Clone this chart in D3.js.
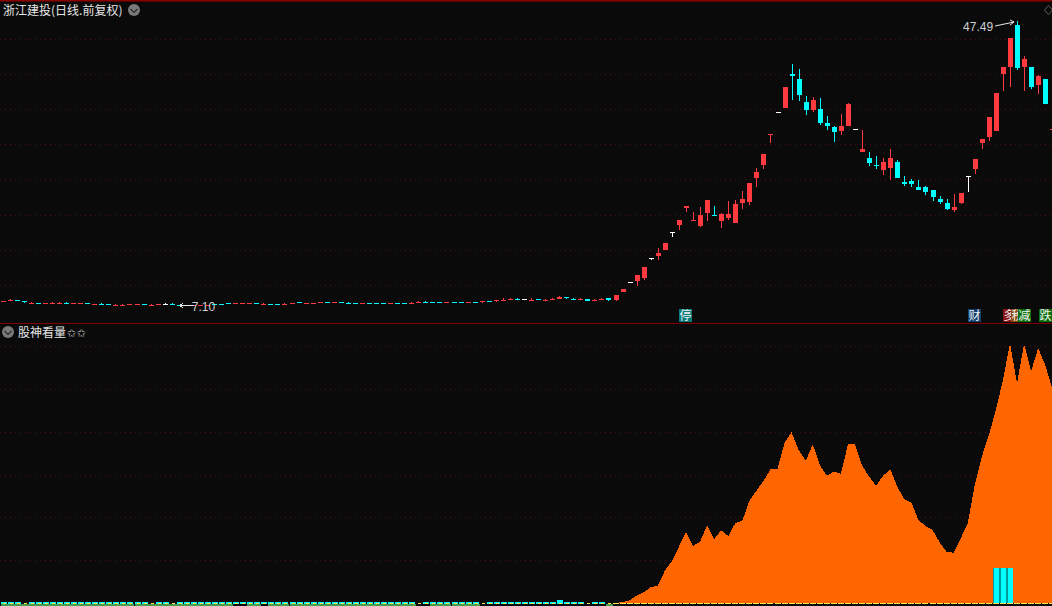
<!DOCTYPE html>
<html><head><meta charset="utf-8">
<script src="https://cdn.jsdelivr.net/npm/d3@7/dist/d3.min.js"></script>
<style>html,body{margin:0;padding:0;background:#0a0a0a;overflow:hidden}svg{display:block}
text{font-family:"Noto Sans CJK SC","Noto Sans",sans-serif}</style></head><body>
<svg id="c" width="1052" height="606"></svg>
<script>
const open=[7.73,7.87,7.89,7.78,7.44,7.46,7.44,7.44,7.44,7.46,
7.44,7.44,7.46,7.30,7.32,7.32,7.16,7.16,7.30,7.30,
7.32,7.16,7.30,7.31,7.32,7.18,7.18,7.16,7.16,7.16,
7.32,7.32,7.46,7.44,7.44,7.44,7.46,7.30,7.32,7.32,
7.30,7.44,7.60,7.44,7.44,7.58,7.60,7.58,7.60,7.46,
7.46,7.44,7.46,7.46,7.46,7.44,7.46,7.46,7.44,7.58,
7.60,7.60,7.60,7.58,7.60,7.60,7.58,7.60,7.73,7.75,
7.87,7.87,8.01,8.03,8.02,7.87,8.03,7.87,8.01,8.02,
8.24,8.03,8.01,8.02,7.87,8.01,8.16,7.88,9.02,10.44,
10.58,11.00,13.84,14.13,14.98,17.54,18.53,20.94,19.23,18.39,
20.23,19.96,19.10,19.52,18.81,21.65,21.80,25.20,27.05,31.31,
34.58,35.14,39.97,39.26,36.00,34.86,35.00,33.01,32.45,31.88,
32.59,32.16,28.90,28.04,27.06,26.34,26.62,27.48,24.64,24.78,
23.93,23.93,23.50,22.22,21.65,20.66,21.65,25.49,26.48,30.17,
31.03,31.88,39.97,40.97,46.93,40.97,40.97,38.41,39.26,32.15];
const high=[7.75,8.02,7.89,7.78,7.60,7.46,7.46,7.60,7.60,7.60,
7.46,7.46,7.46,7.32,7.45,7.32,7.31,7.31,7.32,7.32,
7.32,7.31,7.32,7.45,7.45,7.18,7.18,7.18,7.18,7.18,
7.32,7.32,7.46,7.46,7.46,7.46,7.46,7.45,7.32,7.32,
7.45,7.46,7.60,7.46,7.46,7.60,7.60,7.60,7.60,7.60,
7.46,7.46,7.46,7.46,7.46,7.46,7.46,7.46,7.60,7.74,
7.74,7.60,7.60,7.60,7.60,7.60,7.60,7.60,7.75,7.75,
7.89,8.16,8.16,8.16,8.02,8.16,8.03,8.02,8.16,8.45,
8.24,8.16,8.16,8.02,8.02,8.16,8.16,8.59,9.44,10.44,
11.43,12.57,13.84,15.26,15.97,17.54,19.24,21.23,20.38,21.09,
22.08,21.23,20.23,21.94,22.08,23.36,24.49,26.62,28.61,31.45,
34.58,38.13,41.39,40.68,36.85,36.71,36.56,34.01,32.59,34.29,
35.85,32.16,32.02,28.90,28.33,28.04,29.32,27.76,25.49,25.06,
24.92,24.07,23.50,22.65,22.22,22.93,23.07,25.49,27.90,30.74,
33.87,37.27,40.97,45.08,47.49,42.53,40.97,39.83,39.26,32.17];
const low=[7.73,7.87,7.87,7.45,7.44,7.44,7.44,7.44,7.44,7.44,
7.44,7.44,7.44,7.30,7.30,7.30,7.16,7.16,7.30,7.30,
7.30,7.16,7.30,7.31,7.30,7.10,7.16,7.16,7.16,7.16,
7.30,7.30,7.44,7.44,7.44,7.44,7.44,7.30,7.30,7.30,
7.30,7.44,7.58,7.44,7.44,7.58,7.58,7.58,7.58,7.44,
7.44,7.44,7.44,7.44,7.44,7.44,7.44,7.44,7.44,7.58,
7.58,7.58,7.58,7.58,7.58,7.58,7.58,7.58,7.45,7.73,
7.66,7.87,8.01,8.01,8.02,7.87,8.01,7.87,8.01,8.02,
8.02,8.01,8.01,7.74,7.87,7.81,7.74,7.74,9.02,10.44,
9.87,10.72,13.56,13.56,14.98,16.83,17.82,20.38,19.23,18.25,
19.10,19.94,18.10,19.24,18.81,20.80,21.37,23.93,26.48,30.17,
34.58,35.14,36.28,36.14,34.15,34.58,32.73,32.02,30.32,31.31,
32.59,32.16,28.90,26.91,26.48,25.63,24.92,25.20,24.07,23.93,
23.50,22.79,21.94,21.51,20.66,20.38,21.51,23.22,25.77,29.32,
30.46,31.88,37.56,38.13,40.54,37.56,37.84,37.13,35.71,32.15];
const close=[7.75,7.89,7.87,7.58,7.46,7.44,7.46,7.46,7.46,7.44,
7.46,7.46,7.44,7.32,7.30,7.30,7.18,7.18,7.32,7.32,
7.30,7.18,7.32,7.31,7.30,7.16,7.16,7.18,7.18,7.18,
7.30,7.30,7.44,7.46,7.46,7.46,7.44,7.32,7.30,7.30,
7.32,7.46,7.58,7.46,7.46,7.60,7.58,7.60,7.58,7.44,
7.44,7.46,7.44,7.44,7.44,7.46,7.44,7.44,7.46,7.60,
7.58,7.58,7.58,7.60,7.58,7.58,7.60,7.58,7.75,7.73,
7.89,7.89,8.03,8.01,8.02,7.89,8.01,7.89,8.03,8.31,
8.22,8.01,8.03,7.74,7.89,8.03,7.88,8.59,9.44,10.44,
11.43,12.57,13.84,14.55,15.97,17.54,19.24,21.23,19.25,19.95,
22.08,19.94,20.09,20.09,21.51,22.22,24.49,26.06,28.61,31.45,
34.58,38.13,39.69,36.99,34.86,36.28,33.01,32.59,31.74,32.59,
35.71,32.16,29.32,27.33,27.04,27.48,28.04,25.20,24.35,24.35,
23.50,23.22,22.51,21.80,20.80,21.09,23.07,25.49,27.90,30.74,
33.87,37.27,40.97,45.08,40.82,42.10,38.13,39.69,35.71,32.17];

const areaValues=[0,0,0,0,0,0,0,0,0,0,
0,0,0,0,0,0,0,0,0,0,
0,0,0,0,0,0,0,0,0,0,
0,0,0,0,0,0,0,0,0,0,
0,0,0,0,0,0,0,0,0,0,
0,0,0,0,0,0,0,0,0,0,
0,0,0,0,0,0,0,0,0,0,
0,0,0,0,0,0,0,0,0,0,
0,0,0,0,0,0,0,0,0.23,0.63,
1.70,2.50,3.67,4.04,7.54,9.73,13.15,16.58,13.31,14.32,
18.14,14.94,16.97,15.64,18.61,19.22,23.82,26.22,28.48,31.22,
31.36,37.43,39.86,35.72,33.22,37.05,32.22,29.72,30.70,30.16,
37.05,37.05,32.06,29.49,27.39,29.72,31.22,27.16,24.29,23.42,
19.38,17.98,17.05,14.17,11.98,11.74,15.10,18.61,27.55,34.16,
39.23,45.07,52.07,60.63,51.30,60.46,54.16,59.46,55.56,50.12];
const cyanBars=[0.25,0.25,0.25,0,0.25,0.25,0.25,0.25,0.25,0.25,
0.25,0.25,0.25,0.25,0.25,0.25,0.25,0.25,0.25,0.25,
0.25,0,0.25,0.25,0,0.25,0.25,0.25,0.25,0.25,
0.25,0.25,0.25,0.25,0.25,0.25,0.25,0.25,0.25,0.25,
0.25,0.25,0.25,0.25,0.25,0.25,0.25,0.25,0.25,0.25,
0.25,0.25,0.25,0.25,0.25,0.25,0.25,0.25,0.25,0,
0.25,0.25,0.25,0.25,0.25,0.25,0.25,0.25,0,0.25,
0.25,0.25,0.25,0.25,0.25,0.25,0.25,0.25,0.25,0.75,
0.25,0.25,0.25,0,0.25,0.25,0,0,0,0,
0,0,0,0,0,0,0,0,0,0,
0,0,0,0,0,0,0,0,0,0,
0,0,0,0,0,0,0,0,0,0,
0,0,0,0,0,0,0,0,0,0,
0,0,0,0,0,0,0,0,0,0,
0,8.17,8.17,8.17,0,0,0,0,0,0];
const greenBand=[1,1,1,1,1,1,1,1,1,1,1,1,1,1,1,1,1,1,1,1,1,1,1,1,1,1,1,1,1,1,1,1,1,0,0,1,1,0,1,1,
1,1,1,1,1,1,1,1,1,1,1,1,1,1,1,1,1,1,1,0,0,1,1,1,1,1,1,1,0,0,
0,0,0,0,0,0,0,0,0,0,0,0,0,0,0,0,1];

const priceTicks=[10,15,20,25,30,35,40,45];
const areaTicks=[10,20,30,40,50,60];
const markerIndex=[97,138,143,144,145,148];
const markerText=["停","财","多","税","减","跌"];
const markerFill=["#0b7a7a","#0f4070","#8a1414","#8a4a08","#0b700b","#0b700b"];
const lowPoint={i:25,label:"7.10"};
const highPoint={i:144,label:"47.49"};

const W=1052,H=606;
const svg=d3.select("#c");
const x=d3.scaleLinear().domain([0,149]).range([2.7,1052.26]);
const y=d3.scaleLinear().domain([7.10,47.49]).range([305.5,21]);
const y2=d3.scaleLinear().domain([0,60]).range([603,346]);
const RED="#ff3b3f",CY="#00ffff",WH="#ffffff";
const gridColor="#4a1212";

function grid(scale,vals){
  const g=svg.append("g").attr("class","grid")
    .call(d3.axisLeft(scale).tickValues(vals).tickSize(-W).tickFormat(""));
  g.select(".domain").remove();
  g.selectAll("line").attr("stroke",gridColor).attr("stroke-dasharray","1,4")
    .attr("shape-rendering","crispEdges");
}
svg.append("rect").attr("width",W).attr("height",H).attr("fill","#0a0a0a");
svg.append("rect").attr("width",W).attr("height",1.5).attr("fill","#8b0000");
grid(y,priceTicks);
grid(y2,areaTicks);
svg.append("rect").attr("x",0).attr("y",323).attr("width",W).attr("height",1).attr("fill","#800000");

// candles
const idx=d3.range(open.length);
const colour=i=>close[i]>open[i]?RED:close[i]<open[i]?CY:WH;
const gc=svg.append("g").attr("shape-rendering","crispEdges");
gc.selectAll(".w").data(idx).join("rect").attr("class","w")
  .attr("x",i=>Math.round(x(i))).attr("width",1)
  .attr("y",i=>Math.round(y(high[i])))
  .attr("height",i=>Math.max(1,Math.round(y(low[i]))-Math.round(y(high[i]))))
  .attr("fill",colour);
gc.selectAll(".b").data(idx).join("rect").attr("class","b")
  .attr("x",i=>Math.round(x(i))-2).attr("width",5)
  .attr("y",i=>Math.round(y(Math.max(open[i],close[i]))))
  .attr("height",i=>Math.max(1,Math.round(y(Math.min(open[i],close[i])))-Math.round(y(Math.max(open[i],close[i])))))
  .attr("fill",colour);

// markers
const gm=svg.append("g");
markerIndex.forEach((m,k)=>{
  const l=Math.round(x(m)-6.5);
  gm.append("rect").attr("x",l).attr("y",309).attr("width",13).attr("height",13).attr("fill",markerFill[k]);
  gm.append("text").attr("x",l+6.5).attr("y",320).attr("text-anchor","middle")
    .attr("font-size",12).attr("fill","#f2f2f2").text(markerText[k]);
});

// lower panel
const area=d3.area().x(i=>x(i)).y0(y2(0)).y1(i=>y2(areaValues[i]));
svg.append("path").datum(idx).attr("d",area).attr("fill","#ff6600").attr("shape-rendering","crispEdges");
const gb=svg.append("g").attr("shape-rendering","crispEdges");
gb.selectAll(".gb").data(idx.filter(i=>greenBand[i])).join("rect").attr("class","gb")
  .attr("x",i=>Math.round(x(i))-2).attr("width",7).attr("y",604).attr("height",2).attr("fill","#4c9a4c");
gb.append("rect").attr("x",Math.round(x(141))-3).attr("width",Math.round(x(143))-Math.round(x(141))+6)
  .attr("y",y2(8.17)).attr("height",y2(0)-y2(8.17)).attr("fill","#009c9c");
gb.selectAll(".cb").data(idx.filter(i=>cyanBars[i]>0)).join("rect").attr("class","cb")
  .attr("x",i=>Math.round(x(i))-2).attr("width",i=>cyanBars[i]>1?5:6)
  .attr("y",i=>Math.round(y2(cyanBars[i])))
  .attr("height",i=>Math.round(y2(0))+1-Math.round(y2(cyanBars[i])))
  .attr("fill",CY);
gb.selectAll(".yl").data(idx).join("rect").attr("class","yl")
  .attr("x",i=>Math.round(x(i))-(i<87?0:3)).attr("width",i=>i<87?3:6)
  .attr("y",603).attr("height",1).attr("fill","#ffe94a");

// header text
svg.append("text").attr("x",3).attr("y",14.5).attr("font-size",12).attr("fill","#e6e6e6").text("浙江建投(日线.前复权)");
svg.append("text").attr("x",18).attr("y",336.5).attr("font-size",12).attr("fill","#e6e6e6").text("股神看量");
svg.append("text").attr("x",67).attr("y",336.5).attr("font-size",11).attr("font-weight","bold")
  .style("font-family","DejaVu Sans").attr("letter-spacing","0.5").attr("fill","#d0d0d0").text("✩✩");

function chevron(cx,cy){
  svg.append("circle").attr("cx",cx).attr("cy",cy).attr("r",6).attr("fill","#7a7a7a");
  svg.append("path").attr("d",`M${cx-3.5},${cy-1}L${cx},${cy+2.5}L${cx+3.5},${cy-1}`)
    .attr("fill","none").attr("stroke","#2a2a2a").attr("stroke-width",1.2);
}
chevron(134,10);chevron(8,332);

// diamond
svg.append("path").attr("d","M1048.5,5.5L1052.5,10L1048.5,14.5L1044.5,10Z").attr("fill","none").attr("stroke","#5c5c5c");

// extreme annotations
const lx=x(lowPoint.i),ly=y(7.10);
svg.append("path").attr("d",`M${lx+1},${ly}H${lx+15}M${lx+1},${ly}l3,-2M${lx+1},${ly}l3,2`)
  .attr("fill","none").attr("stroke","#e8e8e8").attr("shape-rendering","crispEdges");
svg.append("text").attr("x",lx+13).attr("y",ly+5.5).attr("font-size",12)
  .style("font-family","Liberation Sans").attr("fill","#cfcfcf").text(lowPoint.label);
const hx=x(highPoint.i),hy=y(47.49);
svg.append("path").attr("d",`M${hx-22},${hy+5}L${hx-3},${hy+1}M${hx-3},${hy+1}l-4,-2M${hx-3},${hy+1}l-4,3`)
  .attr("fill","none").attr("stroke","#e8e8e8");
svg.append("text").attr("x",hx-54).attr("y",hy+10).attr("font-size",12)
  .style("font-family","Liberation Sans").attr("fill","#cfcfcf").text(highPoint.label);
</script></body></html>
